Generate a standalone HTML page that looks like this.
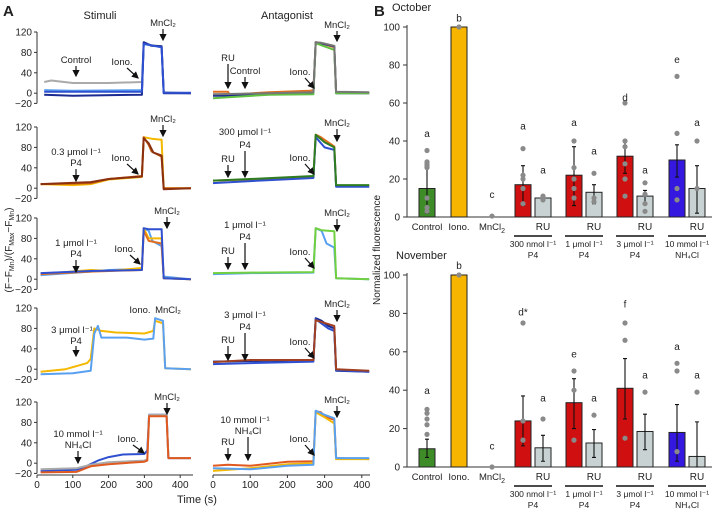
<!DOCTYPE html>
<html><head><meta charset="utf-8"><style>
body{margin:0;background:#fff}
svg{display:block;font-family:"Liberation Sans",sans-serif}
text{fill:#222}
</style></head><body>
<svg id="fig" width="713" height="513" viewBox="0 0 713 513">
<text x="3" y="16" font-size="15" font-weight="bold">A</text>
<text x="374" y="16" font-size="15" font-weight="bold">B</text>
<text x="100" y="19" font-size="11" text-anchor="middle">Stimuli</text>
<text x="287" y="19" font-size="11" text-anchor="middle">Antagonist</text>
<text x="197" y="503" font-size="11" text-anchor="middle">Time (s)</text>
<text transform="translate(12,250) rotate(-90)" font-size="10" text-anchor="middle">(F−F<tspan font-size="7" dy="2">Mn</tspan><tspan dy="-2">)/(F</tspan><tspan font-size="7" dy="2">Max</tspan><tspan dy="-2">−F</tspan><tspan font-size="7" dy="2">Mn</tspan><tspan dy="-2">)</tspan></text>
<text x="392" y="11" font-size="11">October</text>
<text x="396" y="259" font-size="11">November</text>
<text transform="translate(380,250) rotate(-90)" font-size="10" text-anchor="middle">Normalized fluorescence</text>
<g id="A"></g><g id="B"></g>
</svg>
<script>
const NS="http://www.w3.org/2000/svg";
function mk(p,tag,at,txt){const e=document.createElementNS(NS,tag);for(const k in at)e.setAttribute(k,at[k]);if(txt!=null)e.textContent=txt;p.appendChild(e);return e;}
// ---------- Panel A data ----------
const rowTops=[32,127,218,308,402];
const yTicks=[120,80,40,0,-20];
const xTicks=[0,100,200,300,400];
const tracesL=[
 [["#aaa",[[20,22],[40,25],[100,20],[200,20],[293,22],[298,98],[320,94],[348,92],[354,2],[430,0]]],
  ["#5aa0f0",[[20,6],[100,5],[293,6],[298,96],[348,90],[354,1],[430,0]]],
  ["#1a2a90",[[20,-3],[100,-5],[293,-3],[298,100],[320,93],[348,92],[354,0],[430,0]]],
  ["#2f50d0",[[20,3],[293,3],[298,97],[348,90],[354,1],[430,1]]]],
 [["#f5b800",[[10,8],[100,6],[150,8],[200,17],[293,22],[298,100],[320,97],[348,95],[354,0],[430,0]]],
  ["#c86010",[[10,8],[100,9],[150,10],[200,18],[293,24],[298,100],[312,85],[320,72],[348,62],[354,0],[430,0]]],
  ["#8a3010",[[10,8],[150,12],[200,18],[293,23],[298,98],[312,88],[325,70],[348,64],[354,-2],[430,0]]]],
 [["#5aa0f0",[[10,8],[150,15],[200,18],[293,20],[298,100],[312,95],[322,75],[348,65],[354,5],[430,0]]],
  ["#f5b800",[[10,10],[150,18],[200,16],[293,22],[298,100],[312,80],[348,80],[354,2],[430,0]]],
  ["#e07020",[[10,10],[150,15],[293,18],[298,95],[312,75],[348,70],[354,2],[430,0]]],
  ["#2f50d0",[[10,12],[150,16],[293,18],[298,100],[312,98],[348,98],[354,2],[430,0]]]],
 [["#f5b800",[[10,-5],[80,0],[140,12],[150,20],[160,80],[180,75],[220,72],[300,70],[325,75],[330,95],[352,90],[358,2],[430,0]]],
  ["#5aa0f0",[[10,-10],[100,-8],[150,-3],[160,70],[170,85],[180,62],[250,62],[300,58],[325,60],[330,100],[352,95],[358,2],[430,0]]]],
 [["#2f50d0",[[10,-15],[110,-13],[140,-5],[170,5],[200,12],[240,17],[300,18],[308,25],[313,95],[362,95],[367,10],[430,10]]],
  ["#aaa",[[10,-12],[110,-10],[150,-3],[200,2],[300,5],[308,8],[313,95],[362,95],[367,10],[430,10]]],
  ["#e05a20",[[10,-18],[110,-17],[150,-6],[200,-2],[300,3],[308,5],[313,92],[362,92],[367,10],[430,10]]]]
];
const tracesR=[
 [["#e07020",[[0,3],[40,3],[45,-3],[150,2],[260,5],[270,6],[276,100],[290,98],[326,90],[331,2],[420,1]]],
  ["#1a2a90",[[0,-5],[40,-5],[150,-2],[260,0],[270,0],[276,100],[326,92],[331,0],[420,0]]],
  ["#60c040",[[0,-10],[40,-8],[150,-3],[270,-2],[276,98],[326,85],[331,0],[420,0]]],
  ["#777",[[0,-2],[150,0],[270,2],[276,100],[290,99],[326,93],[331,3],[420,2]]]],
 [["#e07020",[[0,15],[100,17],[270,22],[276,105],[290,100],[300,95],[326,82],[331,5],[420,5]]],
  ["#2f50d0",[[0,10],[100,14],[270,20],[276,100],[300,80],[326,75],[331,3],[420,3]]],
  ["#2e7d20",[[0,15],[100,18],[270,24],[276,105],[300,90],[326,80],[331,6],[420,6]]]],
 [["#5aa0f0",[[0,10],[100,12],[270,13],[276,100],[292,95],[305,70],[326,62],[331,2],[420,0]]],
  ["#70d040",[[0,12],[100,13],[270,14],[276,100],[292,96],[326,94],[331,2],[420,0]]]],
 [["#1a2a90",[[0,15],[100,16],[270,18],[276,100],[292,95],[310,85],[326,80],[331,-3],[420,-5]]],
  ["#2f50d0",[[0,10],[100,12],[270,15],[276,98],[310,80],[326,75],[331,-2],[420,-5]]],
  ["#a04020",[[0,14],[100,18],[270,18],[276,96],[326,85],[331,0],[420,-3]]]],
 [["#e05a20",[[0,-5],[40,-3],[100,-5],[200,3],[270,4],[276,102],[290,100],[300,92],[326,85],[331,10],[420,8]]],
  ["#f5b800",[[0,-15],[100,-10],[200,-2],[270,0],[276,100],[300,90],[326,78],[331,8],[420,8]]],
  ["#5aa0f0",[[0,-10],[100,-12],[200,-5],[270,-3],[276,103],[300,95],[326,88],[331,10],[420,10]]]]
];
const annotL=[
 [["Control",76,63,76,66,76,76],["Iono.",122,65,127,68,138,78],["MnCl₂",163,26,163,29,163,40]],
 [["0.3 μmol l⁻¹",76,155,null],["P4",76,166,76,169,76,181],["Iono.",122,161,127,164,138,174],["MnCl₂",163,122,163,125,163,136]],
 [["1 μmol l⁻¹",76,246,null],["P4",76,257,76,260,76,272],["Iono.",125,252,130,255,140,264],["MnCl₂",167,214,167,217,167,228]],
 [["3 μmol l⁻¹",72,333,null],["P4",76,344,76,346,76,356],["Iono.",140,313,null],["MnCl₂",168,313,null]],
 [["10 mmol l⁻¹",78,437,null],["NH₄Cl",78,448,78,451,78,463],["Iono.",128,442,133,445,144,453],["MnCl₂",167,400,167,403,167,414]]
];
const annotR=[
 [["RU",228,61,228,64,228,88],["Control",245,74,245,77,245,88],["Iono.",300,75,305,78,314,88],["MnCl₂",337,28,337,31,337,41]],
 [["300 μmol l⁻¹",245,135,null],["P4",245,148,245,151,245,177],["RU",228,162,228,165,228,177],["Iono.",300,161,305,164,314,174],["MnCl₂",337,126,337,129,337,141]],
 [["1 μmol l⁻¹",245,228,null],["P4",245,240,245,243,245,269],["RU",228,254,228,257,228,269],["Iono.",300,255,305,258,314,268],["MnCl₂",337,216,337,219,337,231]],
 [["3 μmol l⁻¹",245,318,null],["P4",245,330,245,333,245,360],["RU",228,343,228,346,228,360],["Iono.",300,345,305,348,314,358],["MnCl₂",337,307,337,310,337,321]],
 [["10 mmol l⁻¹",245,423,null],["NH₄Cl",248,434,248,437,248,460],["RU",228,445,228,448,228,460],["Iono.",300,442,305,445,314,455],["MnCl₂",337,403,337,406,337,417]]
];
const xL=t=>37+t*0.358, xR=t=>213+t*0.372;
const yRow=(r,v)=>rowTops[r]+(120-v)*0.51;
const A=document.getElementById('A');
mk(A,'defs',{}).innerHTML='<marker id="ah" markerWidth="6" markerHeight="6" refX="5" refY="3" orient="auto"><path d="M0,0L6,3L0,6z" fill="#111"/></marker>';
function drawAnnot(g,list){list.forEach(a=>{const t=mk(g,'text',{x:a[1],y:a[2],'font-size':9.5,'text-anchor':'middle'},a[0]);


if(a[3]!=null){const l=mk(g,'line',{x1:a[3],y1:a[4],x2:a[5],y2:a[6],stroke:'#111','stroke-width':1.2,'marker-end':'url(#ah)'});

}});}
for(let r=0;r<5;r++){
 const g=mk(A,'g',{});
 
 
 mk(g,'line',{x1:37,y1:yRow(r,120),x2:37,y2:yRow(r,-20),stroke:'#333','stroke-width':1});
 yTicks.forEach(v=>{mk(g,'line',{x1:34,x2:37,y1:yRow(r,v),y2:yRow(r,v),stroke:'#333'});
  const t=mk(g,'text',{x:32,y:yRow(r,v)+3.5,'font-size':10,'text-anchor':'end'},v===-20?'−20':v);
  
  });
 [[tracesL[r],xL],[tracesR[r],xR]].forEach(([tr,fx])=>tr.forEach(([c,pts])=>{
  const p=mk(g,'polyline',{points:pts.map(q=>fx(q[0]).toFixed(1)+','+yRow(r,q[1]).toFixed(1)).join(' '),fill:'none',stroke:c,'stroke-width':2,'stroke-linejoin':'round'});
  
  }));
 drawAnnot(g,annotL[r]);drawAnnot(g,annotR[r]);
}
[[xL,37,193],[xR,213,370]].forEach(([fx,a,b])=>{
 mk(A,'line',{x1:a,x2:b,y1:475,y2:475,stroke:'#333'});
 xTicks.forEach(v=>{mk(A,'line',{x1:fx(v),x2:fx(v),y1:475,y2:478,stroke:'#333'});
 const t=mk(A,'text',{x:fx(v),y:488,'font-size':10,'text-anchor':'middle'},v);
 
 });
});
// ---------- Panel B data ----------
const barCenters=[427,459,492,523,543,574,594,625,645,677,697];
const barColors=["#3d8c28","#f7b500","#888","#d01010","#c8d2d2","#d01010","#c8d2d2","#d01010","#c8d2d2","#3418e0","#c8d2d2"];
const octMeans=[15,100,0.3,17,10,22,13,32,11,30,15];
const octErrLo=[2,100,0,6,9,6,7,23,7,21,2];
const octErrHi=[28,100,0,27,11,37,17,40,14,38,27];
const octDots=[[35,29,28,27,26,10,5,3],[100],[0.5],[36,22,20,15,7],[11,10,9],[40,26,20,15,10],[23,10,8],[60,40,37,28,20,11],[18,12,7,3],[74,44,15,9],[40,15]];
const octLetters=["a","b","c","a","a","a","a","d","a","e","a"];
const octLetterY=[42,103,10,46,23,48,33,61,23,81,48];
const novMeans=[9.5,100,0,24,10,33.5,12.5,41,18.5,18,5.5];
const novErrLo=[5,100,0,11,3,20,5,25,9,3,0];
const novErrHi=[14.5,100,0,37,16.5,46,19.5,56.5,27.5,32.5,23.5];
const novDots=[[30,28,25,22,17],[100],[0],[75,24,14],[25],[50,40,14],[27],[75,66,15],[39],[54,50,8],[39]];
const novLetters=["a","b","c","d*","a","e","a","f","a","a","a"];
const novLetterY=[38,103,9,79,34,57,34,83,46,61,46];
const bTicks=[0,20,40,60,80,100];
const groupLabels=[["300 nmol l⁻¹","P4"],["1 μmol l⁻¹","P4"],["3 μmol l⁻¹","P4"],["10 mmol l⁻¹","NH₄Cl"]];
const B=document.getElementById('B');
function barChart(name,top,zero,means,lo,hi,dots,letters,ly){
 const g=mk(B,'g',{});
 
 
 const sc=(zero-top)/100, y=v=>zero-v*sc;
 mk(g,'line',{x1:407,x2:407,y1:y(100)-2,y2:zero,stroke:'#333'});
 mk(g,'line',{x1:407,x2:712,y1:zero,y2:zero,stroke:'#333'});
 bTicks.forEach(v=>{mk(g,'line',{x1:403,x2:407,y1:y(v),y2:y(v),stroke:'#333'});
  const t=mk(g,'text',{x:400,y:y(v)+3.5,'font-size':10,'text-anchor':'end'},v);
  
  });
 means.forEach((m,i)=>{const cx=barCenters[i];
  if(i!==2){const r=mk(g,'rect',{x:cx-8,y:y(m),width:16,height:m*sc,fill:barColors[i],stroke:'#222','stroke-width':1});
  
  }
  if(hi[i]!==lo[i]){const e=mk(g,'path',{d:`M${cx},${y(lo[i])}V${y(hi[i])}M${cx-2},${y(hi[i])}h4M${cx-2},${y(lo[i])}h4`,stroke:'#111','stroke-width':1.1,fill:'none'});
  
  }
  dots[i].forEach(d=>{const c=mk(g,'circle',{cx:cx,cy:y(d),r:2.6,fill:'#8a8a8a'});
   
   });
  const t=mk(g,'text',{x:cx,y:y(ly[i]),'font-size':10,'text-anchor':'middle'},letters[i]);
  
  
 });
 const ty=zero+13;
 [["Control",427],["Iono.",459]].forEach(([s,x])=>{const t=mk(g,'text',{x:x,y:ty,'font-size':9.5,'text-anchor':'middle'},s);
  
  });
 const mn=mk(g,'text',{x:492,y:ty,'font-size':9.5,'text-anchor':'middle'});mn.innerHTML='MnCl<tspan font-size="7" dy="3">2</tspan>';
 
 
 groupLabels.forEach((gl,k)=>{const cx=barCenters[4+2*k];const mid=(barCenters[3+2*k]+cx)/2;
  const ru=mk(g,'text',{x:cx,y:ty,'font-size':10,'text-anchor':'middle'},'RU');
  
  
  mk(g,'line',{x1:mid-19,x2:mid+19,y1:zero+19,y2:zero+19,stroke:'#111','stroke-width':1.4});
  const a=mk(g,'text',{x:mid,y:zero+30,'font-size':8.5,'text-anchor':'middle'},gl[0]);
  
  
  const b=mk(g,'text',{x:mid,y:zero+41,'font-size':8.5,'text-anchor':'middle'},gl[1]);
  
  });
}
barChart('october-chart',27,217,octMeans,octErrLo,octErrHi,octDots,octLetters,octLetterY);
barChart('november-chart',275,467,novMeans,novErrLo,novErrHi,novDots,novLetters,novLetterY);
</script>
</body></html>
